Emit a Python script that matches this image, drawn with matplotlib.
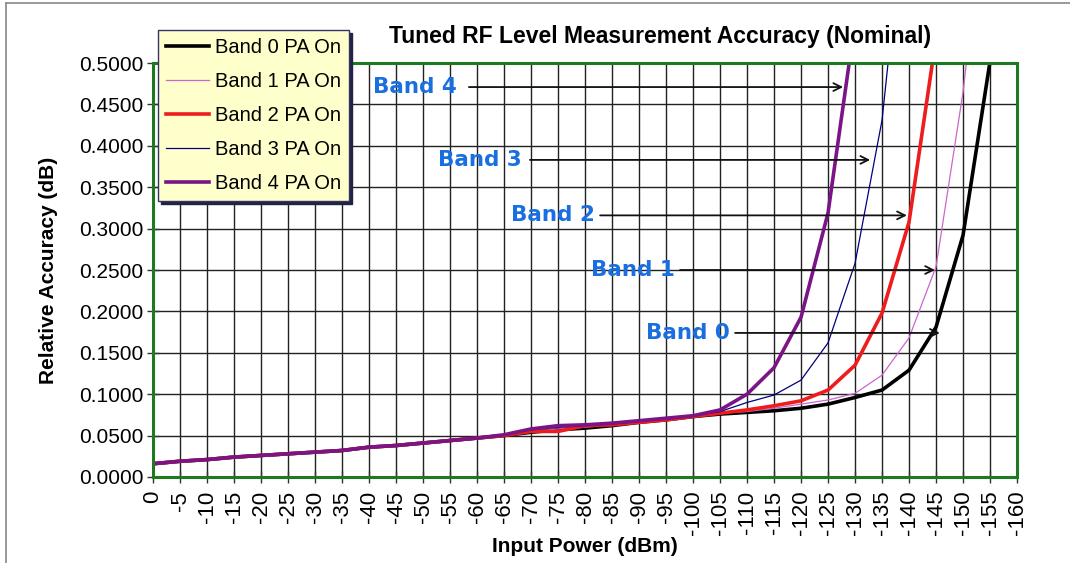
import numpy as np
import matplotlib
matplotlib.use('Agg')
import matplotlib.pyplot as plt
from matplotlib.lines import Line2D

plt.rcParams['font.family'] = ['Liberation Sans', 'DejaVu Sans']

# input power (dBm), every 5 dB from 0 down to -160
power = list(range(0, -165, -5))
nan = np.nan

band0 = [0.016, 0.019, 0.021, 0.024, 0.026, 0.028, 0.030, 0.032, 0.036, 0.038,
         0.041, 0.044, 0.047, 0.050, 0.054, 0.057, 0.059, 0.062, 0.066, 0.069,
         0.073, 0.076, 0.078, 0.080, 0.083, 0.088, 0.096, 0.105, 0.129, 0.181,
         0.292, 0.502, nan]
band1 = [0.016, 0.019, 0.021, 0.024, 0.026, 0.028, 0.030, 0.032, 0.036, 0.038,
         0.041, 0.044, 0.047, 0.050, 0.055, 0.058, 0.060, 0.063, 0.066, 0.069,
         0.073, 0.077, 0.079, 0.083, 0.088, 0.093, 0.101, 0.123, 0.168, 0.254,
         0.465, 0.750, nan]
band2 = [0.016, 0.019, 0.021, 0.024, 0.026, 0.028, 0.030, 0.032, 0.036, 0.038,
         0.041, 0.044, 0.047, 0.050, 0.055, 0.055, 0.062, 0.063, 0.066, 0.069,
         0.073, 0.077, 0.081, 0.086, 0.092, 0.105, 0.135, 0.198, 0.308, 0.530,
         nan, nan, nan]
band3 = [0.016, 0.019, 0.021, 0.024, 0.026, 0.028, 0.030, 0.032, 0.036, 0.038,
         0.041, 0.044, 0.047, 0.051, 0.057, 0.060, 0.062, 0.064, 0.067, 0.070,
         0.074, 0.079, 0.090, 0.099, 0.117, 0.162, 0.258, 0.431, 0.740, nan,
         nan, nan, nan]
band4 = [0.016, 0.019, 0.021, 0.024, 0.026, 0.028, 0.030, 0.032, 0.036, 0.038,
         0.041, 0.044, 0.047, 0.051, 0.058, 0.062, 0.063, 0.065, 0.068, 0.071,
         0.074, 0.081, 0.100, 0.132, 0.193, 0.319, 0.550, nan, nan, nan,
         nan, nan, nan]

series = [
    ('Band 0 PA On', band0, 'black', 2.6),
    ('Band 1 PA On', band1, '#cc66cc', 0.9),
    ('Band 2 PA On', band2, '#ee1c1c', 2.6),
    ('Band 3 PA On', band3, '#000080', 0.9),
    ('Band 4 PA On', band4, '#7b1486', 2.6),
]

# callouts: label, text position, arrow tail x, arrow head x
callouts = [
    ('Band 4', -48.5, 0.471, -58.5, -127.8),
    ('Band 3', -60.6, 0.383, -69.8, -132.8),
    ('Band 2', -74.1, 0.316, -82.8, -139.6),
    ('Band 1', -88.9, 0.250, -97.6, -144.8),
    ('Band 0', -99.1, 0.174, -107.8, -145.7),
]

fig = plt.figure(figsize=(10.7, 5.63), dpi=100)
ax = fig.add_axes([0.143, 0.1528, 0.8075, 0.7352])

for name, vals, col, lw in series:
    ax.plot(power, vals, color=col, lw=lw, label=name, solid_joinstyle='miter')

ax.set_xlim(0, -160)
ax.set_ylim(0, 0.5)
ax.set_xticks(power)
ax.set_xticklabels([str(p) for p in power], rotation=90, fontsize=16)
yt = np.arange(0, 0.5001, 0.05)
ax.set_yticks(yt)
ax.set_yticklabels(['%.4f' % v for v in yt], fontsize=15)
ax.tick_params(direction='inout', length=8, width=1, color='#333333', pad=3)
ax.tick_params(axis='x', pad=6)
ax.grid(True, color='#222222', lw=1)
ax.set_axisbelow(True)
for s in ax.spines.values():
    s.set_color('#1e7a1e')
    s.set_linewidth(2.2)

ax.set_xlabel('Input Power (dBm)', fontsize=15, fontweight='bold', labelpad=1)
ax.set_ylabel('Relative Accuracy (dB)', fontsize=15, fontweight='bold', labelpad=15)
fig.text(0.617, 0.936, 'Tuned RF Level Measurement Accuracy (Nominal)',
         ha='center', va='center', fontsize=16.5, fontweight='bold')

for lab, tx, ty, x0, x1 in callouts:
    ax.text(tx, ty, lab, ha='center', va='center', fontsize=15.5,
            fontweight='bold', color='#1a6fe0', family='DejaVu Sans')
    ax.annotate('', xy=(x1, ty), xytext=(x0, ty),
                arrowprops=dict(arrowstyle='->', color='#111111', lw=1.3,
                                shrinkA=0, shrinkB=0, mutation_scale=14))

leg = ax.legend(loc='upper left', bbox_to_anchor=(0.006, 1.08), fontsize=14.5,
                frameon=True, fancybox=False, shadow={'color': '#222244', 'alpha': 1},
                borderpad=0.4, labelspacing=0.75, handlelength=2.1,
                handletextpad=0.3, borderaxespad=0)
leg.get_frame().set_facecolor('#ffffcc')
leg.get_frame().set_edgecolor('#333366')
leg.get_frame().set_alpha(1)
leg.set_zorder(10)

# thin outer frame
fig.add_artist(Line2D([6 / 1070, 1], [1 - 3 / 563, 1 - 3 / 563], color='#888888', lw=1.2))
fig.add_artist(Line2D([6 / 1070, 6 / 1070], [0, 1 - 3 / 563], color='#888888', lw=1.2))

fig.savefig('out.png', dpi=100)
